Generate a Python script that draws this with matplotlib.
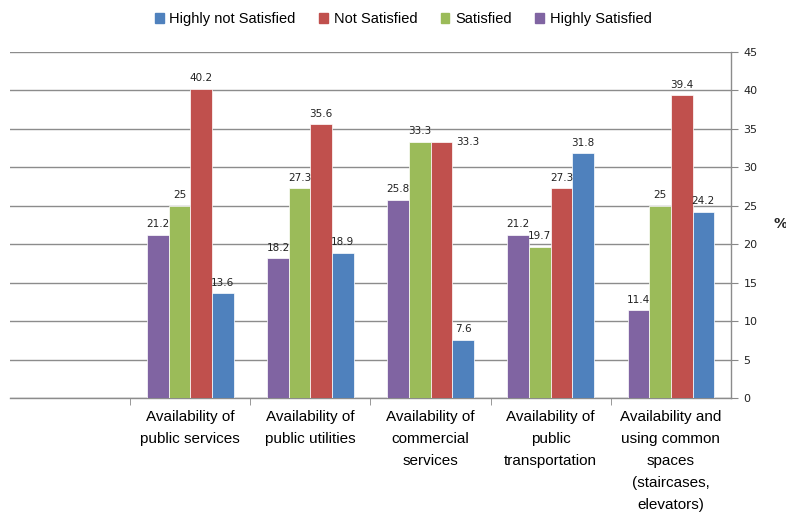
import numpy as np
import matplotlib
matplotlib.use("Agg")
import matplotlib.pyplot as plt
from matplotlib.patches import Patch

categories = ["", "Availability of\npublic services", "Availability of\npublic utilities",
              "Availability of\ncommercial\nservices", "Availability of\npublic\ntransportation",
              "Availability and\nusing common\nspaces\n(staircases,\nelevators)"]
highly_satisfied = [np.nan, 21.2, 18.2, 25.8, 21.2, 11.4]
satisfied = [np.nan, 25, 27.3, 33.3, 19.7, 25]
not_satisfied = [np.nan, 40.2, 35.6, 33.3, 27.3, 39.4]
highly_not_satisfied = [np.nan, 13.6, 18.9, 7.6, 31.8, 24.2]
y_ticks = [0, 5, 10, 15, 20, 25, 30, 35, 40, 45]

series = [("Highly Satisfied", highly_satisfied, "#8064A2"),
          ("Satisfied", satisfied, "#9BBB59"),
          ("Not Satisfied", not_satisfied, "#C0504D"),
          ("Highly not Satisfied", highly_not_satisfied, "#4F81BD")]

fig = plt.figure(figsize=(7.86, 5.16), dpi=100)
ax = fig.add_axes([10/786, 1-398/516, (731-10)/786, (398-52)/516])

x = np.arange(len(categories))
w = 0.18
for i, (name, vals, col) in enumerate(series):
    v = np.array(vals, dtype=float)
    pos = x + (i - 1.5) * w
    ax.bar(pos, v, width=w, color=col, edgecolor="white", linewidth=0.5, zorder=3)
    for p, val in zip(pos, v):
        if np.isnan(val):
            continue
        txt = f"{val:g}"
        fs = 7.5
        dx, dy = 0, 4
        ha, va = "center", "bottom"
        if name == "Not Satisfied" and abs(val - 33.3) < 1e-6:
            dx, dy, ha, va = 3, 0, "left", "center"
        ax.annotate(txt, (p + (w/2 if ha == "left" else 0), val), xytext=(dx, dy),
                    textcoords="offset points", ha=ha, va=va, fontsize=fs,
                    color="#222222", zorder=4)

ax.set_xlim(-0.5, len(categories) - 0.5)
ax.set_ylim(0, 45)
ax.set_yticks(y_ticks)
ax.yaxis.tick_right()
ax.tick_params(axis="y", direction="out", length=5, color="#888888", labelsize=8,
               labelcolor="#222222", pad=4)
ax.grid(axis="y", color="#8c8c8c", linewidth=1, zorder=0)
ax.set_axisbelow(True)

ax.set_xticks(x)
ax.set_xticklabels(categories, fontsize=11, family="Liberation Sans", linespacing=1.72,
                   va="top")
ax.tick_params(axis="x", length=0, pad=9)
ax.set_xticks(np.arange(0.5, len(categories) - 0.5, 1), minor=True)
ax.tick_params(axis="x", which="minor", length=5, color="#888888", direction="out")

for s in ["top", "left"]:
    ax.spines[s].set_visible(False)
for s in ["right", "bottom"]:
    ax.spines[s].set_color("#8c8c8c")
    ax.spines[s].set_linewidth(1)

handles = [Patch(color=c, label=n) for n, _, c in series[::-1]]
fig.legend(handles=handles, loc="center", bbox_to_anchor=(0.513, 0.963), ncol=4,
           frameon=False, prop={"family": "Liberation Sans", "size": 10.5},
           handlelength=0.6, handleheight=0.6, handletextpad=0.4, columnspacing=1.6)

fig.text(0.993, 0.565, "%", fontsize=10, fontweight="bold", ha="center", va="center",
         color="#222222")

fig.savefig("out.png", dpi=100)
